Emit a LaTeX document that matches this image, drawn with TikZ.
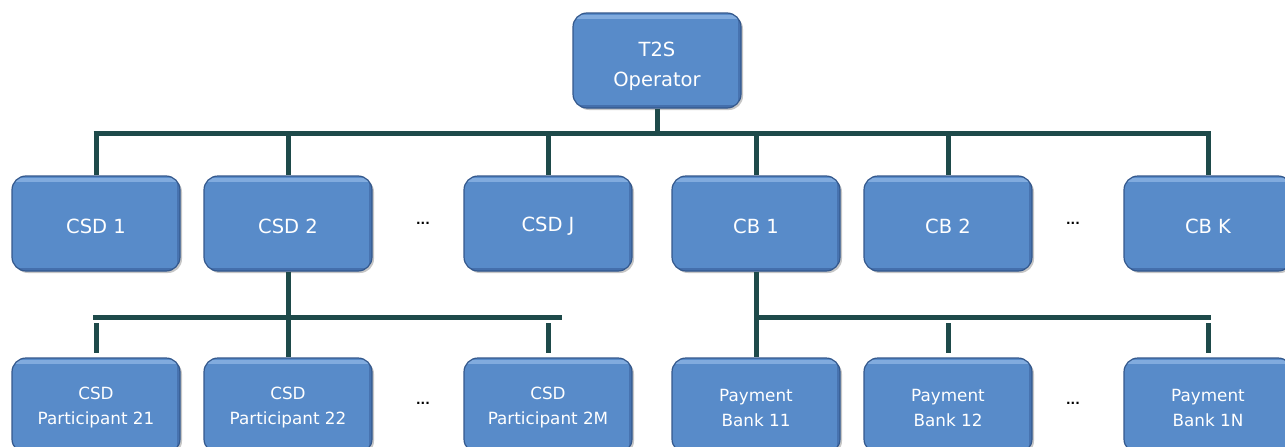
\documentclass[tikz,border=0pt]{standalone}
\usepackage{fontspec}
\setmainfont{DejaVu Sans}
\usetikzlibrary{shadows}
\definecolor{boxfill}{RGB}{88,139,201}
\definecolor{boxedge}{RGB}{52,88,140}
\definecolor{boxlight}{RGB}{140,180,228}
\definecolor{boxdark}{RGB}{60,100,160}
\definecolor{linec}{RGB}{30,74,74}
\newcommand\lowr[2]{\raisebox{-#1}[\height][\depth]{#2}}
\begin{document}
\begin{tikzpicture}[x=1pt,y=-1pt,
  box/.style={draw=boxedge, line width=1.2pt, fill=boxfill, rounded corners=14pt,
    minimum width=168pt, minimum height=95pt, text=white, align=center, inner sep=0pt,
    drop shadow={shadow xshift=2pt, shadow yshift=-2pt, opacity=0.45},
    path picture={
      \draw[boxlight, line width=4pt, opacity=0.8]
        ([yshift=-4pt]path picture bounding box.north west) -- ([yshift=-4pt]path picture bounding box.north east);
      \draw[boxdark, line width=5pt, opacity=0.7]
        ([yshift=1pt]path picture bounding box.south west) -- ([yshift=1pt]path picture bounding box.south east);
      \draw[boxdark, line width=4pt, opacity=0.6]
        ([xshift=-1pt]path picture bounding box.north east) -- ([xshift=-1pt]path picture bounding box.south east);
    }},
  big/.style={font=\fontsize{19.5}{30}\selectfont},
  small/.style={font=\fontsize{16.8}{25}\selectfont},
  lower/.style={execute at begin node={\rule{0pt}{#1}}},
  conn/.style={draw=linec, line width=5pt},
  dotsnode/.style={font=\bfseries\fontsize{12}{12}\selectfont, anchor=base, inner sep=0pt}]
\useasboundingbox (0,0) rectangle (1285,447);
\clip (0,0) rectangle (1285,447);
% top
\node[box,big] (top) at (657,60.5) {\lowr{6pt}{T2S}\\\lowr{6pt}{Operator}};
% level 2
\node[box,big,lower=20pt] (c1) at (96,223.5) {CSD 1};
\node[box,big,lower=20pt] (c2) at (288,223.5) {CSD 2};
\node[box,big,lower=20pt] (cj) at (548,223.5) {CSD J};
\node[box,big,lower=20pt] (b1) at (756,223.5) {CB 1};
\node[box,big,lower=20pt] (b2) at (948,223.5) {CB 2};
\node[box,big,lower=20pt] (bk) at (1208,223.5) {CB K};
\node[dotsnode] (d1) at (423,224) {...};
\node[dotsnode] (d2) at (1073,224) {...};
% level 3
\node[box,small] (p21) at (96,405.5) {\lowr{2pt}{CSD}\\\lowr{2pt}{Participant 21}};
\node[box,small] (p22) at (288,405.5) {\lowr{2pt}{CSD}\\\lowr{2pt}{Participant 22}};
\node[box,small] (p2m) at (548,405.5) {\lowr{2pt}{CSD}\\\lowr{2pt}{Participant 2M}};
\node[box,small] (pb11) at (756,405.5) {\lowr{2pt}{Payment}\\\lowr{2pt}{Bank 11}};
\node[box,small] (pb12) at (948,405.5) {\lowr{2pt}{Payment}\\\lowr{2pt}{Bank 12}};
\node[box,small] (pb1n) at (1208,405.5) {\lowr{2pt}{Payment}\\\lowr{2pt}{Bank 1N}};
\node[dotsnode] (d3) at (423,404) {...};
\node[dotsnode] (d4) at (1073,404) {...};
% coordinates
\coordinate (busT) at (657,133);
\coordinate (busL) at (0,317.5);
\coordinate (busLa) at (93,317.5);
\coordinate (busLb) at (562,317.5);
\coordinate (busRb) at (1211,317.5);
% top bus
\draw[conn] (top.south) -- (top.south |- busT);
\draw[conn] ([xshift=-2.5pt]c1.north |- busT) -- ([xshift=2.5pt]bk.north |- busT);
\foreach \n in {c1,c2,cj,b1,b2,bk}
  \draw[conn] (\n.north |- busT) -- (\n.north);
% left bus
\draw[conn] (c2.south) -- (p22.north);
\draw[conn] (busLa) -- (busLb);
\draw[conn] ([yshift=-5.5pt]p21.north |- busL) -- ([yshift=4.5pt]p21.north);
\draw[conn] ([yshift=-5.5pt]p2m.north |- busL) -- ([yshift=4.5pt]p2m.north);
% right bus
\draw[conn] (b1.south) -- (pb11.north);
\draw[conn] (pb11.north |- busL) -- (busRb);
\draw[conn] ([yshift=-5.5pt]pb12.north |- busL) -- ([yshift=4.5pt]pb12.north);
\draw[conn] ([yshift=-5.5pt]pb1n.north |- busL) -- ([yshift=4.5pt]pb1n.north);
\end{tikzpicture}
\end{document}
